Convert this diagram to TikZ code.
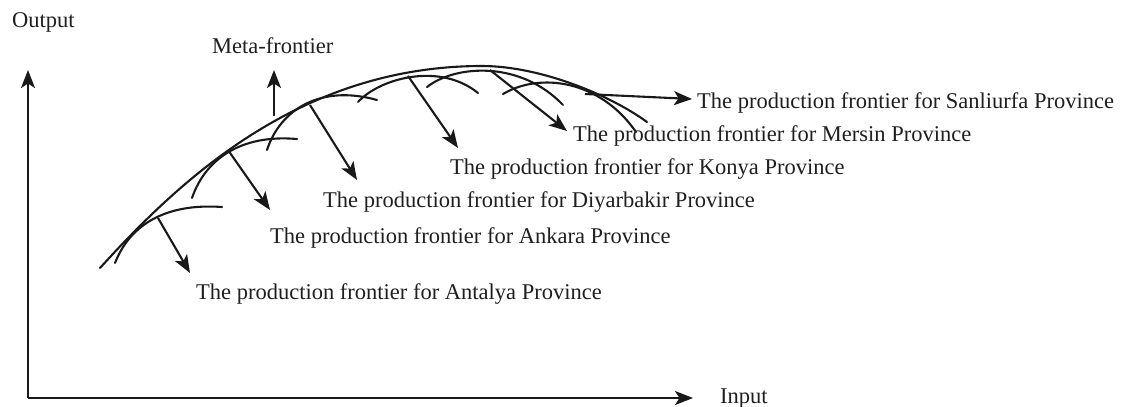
\documentclass[tikz,border=0pt]{standalone}
\usepackage{fontspec}
\setmainfont{Liberation Serif}
\usetikzlibrary{arrows.meta}
\begin{document}
\begin{tikzpicture}[x=1pt,y=-1pt,
  curve/.style={line width=2.1pt, line cap=round, color=black!90},
  arr/.style={line width=2.1pt, color=black!90, -{Stealth[length=18pt,width=14pt,inset=4.5pt]}},
  lbl/.style={anchor=base west, inner sep=0pt, text=black!88, font=\fontsize{22.5}{27}\selectfont}]
\useasboundingbox (0,0) rectangle (1130,407);
% axes
\coordinate (O) at (28,398);
\coordinate (ytip) at (28,70);
\coordinate (xtip) at (693,398);
\draw[arr] (O) -- (ytip);
\draw[arr] (O) -- (xtip);
\node[lbl] (output) at (12,27) {Output};
\node[lbl] (input) at (720,403) {Input};
% meta-frontier
\draw[curve] (100,268) .. controls (180,180) and (300,66) .. (482,66)
                       .. controls (540,66) and (610,95) .. (647,122);
% local frontiers
\draw[curve] (115,263) .. controls (130,225) and (165,203) .. (222,207);
\draw[curve] (192,198) .. controls (205,160) and (240,134) .. (297,139);
\draw[curve] (267,150) .. controls (280,110) and (320,84) .. (377,100);
\draw[curve] (358,102) .. controls (380,78) and (440,62) .. (478,93);
\draw[curve] (427,87) .. controls (455,65) and (520,60) .. (563,105);
\draw[curve] (503,94) .. controls (540,72) and (600,80) .. (636,132);
% arrow start points
\coordinate (smeta) at (274,116);
\coordinate (sant) at (158,218);
\coordinate (sank) at (228,150);
\coordinate (sdiy) at (310,105);
\coordinate (skon) at (408,76);
\coordinate (smer) at (490,70);
\coordinate (ssan) at (585,94);
% arrow tips
\coordinate (tmeta) at (274,70);
\coordinate (tant) at (190,273);
\coordinate (tank) at (270,210);
\coordinate (tdiy) at (357,180);
\coordinate (tkon) at (458,148);
\coordinate (tmer) at (567,131);
\coordinate (tsan) at (692,99);
\draw[arr] (smeta) -- (tmeta);
\draw[arr] (sant) -- (tant);
\draw[arr] (sank) -- (tank);
\draw[arr] (sdiy) -- (tdiy);
\draw[arr] (skon) -- (tkon);
\draw[arr] (smer) -- (tmer);
\draw[arr] (ssan) -- (tsan);
% labels
\node[lbl] (lmeta) at (212,53) {Meta-frontier};
\node[lbl] (lsan) at (697,108) {The production frontier for Sanliurfa Province};
\node[lbl] (lmer) at (573,141) {The production frontier for Mersin Province};
\node[lbl] (lkon) at (450,174) {The production frontier for Konya Province};
\node[lbl] (ldiy) at (323,207) {The production frontier for Diyarbakir Province};
\node[lbl] (lank) at (270,243) {The production frontier for Ankara Province};
\node[lbl] (lant) at (196,299) {The production frontier for Antalya Province};
\end{tikzpicture}
\end{document}
